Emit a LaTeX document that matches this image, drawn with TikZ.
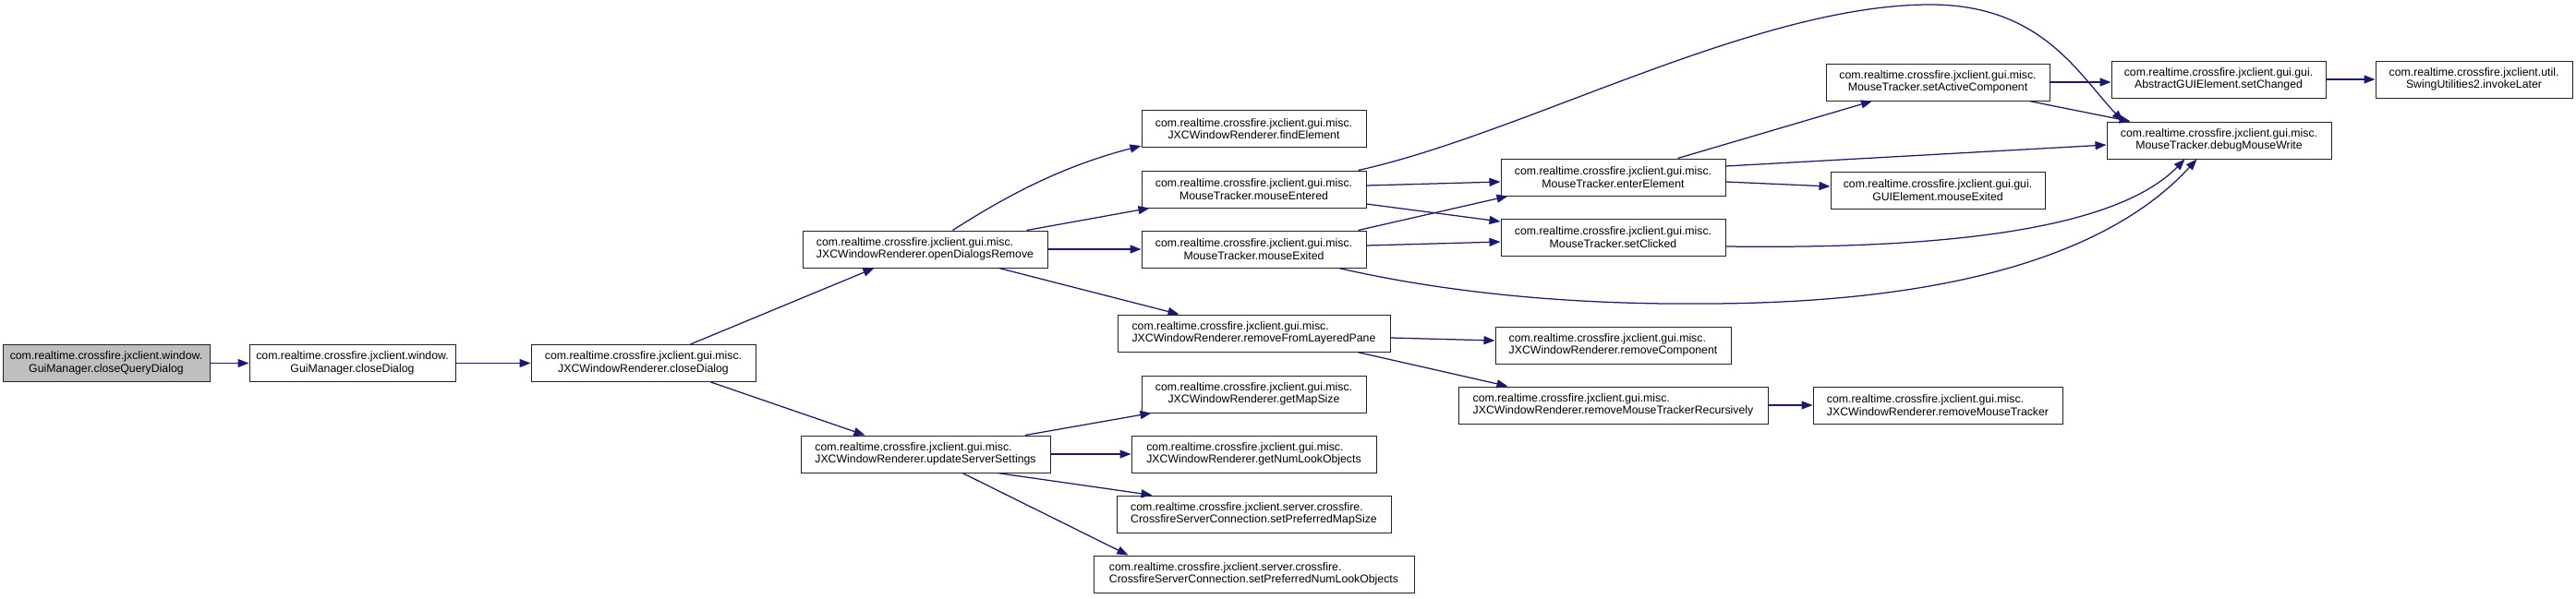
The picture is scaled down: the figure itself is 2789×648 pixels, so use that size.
\documentclass[tikz,border=0pt]{standalone}
\usepackage{fontspec}
\setmainfont{Liberation Sans}
\usetikzlibrary{arrows.meta,calc}
\definecolor{edgec}{HTML}{191970}
\definecolor{rootc}{HTML}{BFBFBF}
\definecolor{boxc}{HTML}{222222}
\begin{document}
\begin{tikzpicture}[x=1pt,y=-1pt,
  fn/.style={draw=boxc, line width=1pt, fill=white, inner sep=0pt, minimum height=40pt,
    font=\fontsize{12.3}{13.6}\selectfont, align=center},
  fnl/.style={fn, align=left},
  call/.style={draw=edgec, line width=1.25pt, -{Triangle[length=12pt,width=9pt]}, edgec}]
\useasboundingbox (0,0) rectangle (2789,648);
% column 1-3
\node[fn, fill=rootc, minimum width=224pt] (n1) at (115,393.5) {com.realtime.crossfire.jxclient.window.\\GuiManager.closeQueryDialog};
\node[fn, minimum width=223pt] (n2) at (381.5,393.5) {com.realtime.crossfire.jxclient.window.\\GuiManager.closeDialog};
\node[fn, minimum width=243pt] (n3) at (696.5,393.5) {com.realtime.crossfire.jxclient.gui.misc.\\JXCWindowRenderer.closeDialog};
% column 4
\node[fnl, minimum width=265pt] (n4) at (1001.5,270) {com.realtime.crossfire.jxclient.gui.misc.\\JXCWindowRenderer.openDialogsRemove};
\node[fnl, minimum width=270pt] (n5) at (1002,492) {com.realtime.crossfire.jxclient.gui.misc.\\JXCWindowRenderer.updateServerSettings};
% column 5
\node[fn, minimum width=243pt] (n6) at (1357.5,139.5) {com.realtime.crossfire.jxclient.gui.misc.\\JXCWindowRenderer.findElement};
\node[fn, minimum width=243pt] (n7) at (1357.5,205) {com.realtime.crossfire.jxclient.gui.misc.\\MouseTracker.mouseEntered};
\node[fn, minimum width=243pt] (n8) at (1357.5,270) {com.realtime.crossfire.jxclient.gui.misc.\\MouseTracker.mouseExited};
\node[fnl, minimum width=295pt] (n9) at (1357.5,361) {com.realtime.crossfire.jxclient.gui.misc.\\JXCWindowRenderer.removeFromLayeredPane};
\node[fn, minimum width=243pt] (n10) at (1357.5,427) {com.realtime.crossfire.jxclient.gui.misc.\\JXCWindowRenderer.getMapSize};
\node[fnl, minimum width=265pt] (n11) at (1357.5,492) {com.realtime.crossfire.jxclient.gui.misc.\\JXCWindowRenderer.getNumLookObjects};
\node[fnl, minimum width=297pt] (n12) at (1357.5,557) {com.realtime.crossfire.jxclient.server.crossfire.\\CrossfireServerConnection.setPreferredMapSize};
\node[fnl, minimum width=347pt] (n13) at (1357.5,622) {com.realtime.crossfire.jxclient.server.crossfire.\\CrossfireServerConnection.setPreferredNumLookObjects};
% column 6
\node[fn, minimum width=243pt] (n14) at (1746.5,192) {com.realtime.crossfire.jxclient.gui.misc.\\MouseTracker.enterElement};
\node[fn, minimum width=243pt] (n15) at (1746.5,257) {com.realtime.crossfire.jxclient.gui.misc.\\MouseTracker.setClicked};
\node[fnl, minimum width=255pt] (n16) at (1746.5,374) {com.realtime.crossfire.jxclient.gui.misc.\\JXCWindowRenderer.removeComponent};
\node[fnl, minimum width=335pt] (n17) at (1746.5,439) {com.realtime.crossfire.jxclient.gui.misc.\\JXCWindowRenderer.removeMouseTrackerRecursively};
% column 7
\node[fn, minimum width=242pt] (n18) at (2098,89) {com.realtime.crossfire.jxclient.gui.misc.\\MouseTracker.setActiveComponent};
\node[fn, minimum width=232pt] (n19) at (2098,206) {com.realtime.crossfire.jxclient.gui.gui.\\GUIElement.mouseExited};
\node[fnl, minimum width=270pt] (n20) at (2098,439) {com.realtime.crossfire.jxclient.gui.misc.\\JXCWindowRenderer.removeMouseTracker};
% column 8-9
\node[fn, minimum width=232pt] (n21) at (2402,86) {com.realtime.crossfire.jxclient.gui.gui.\\AbstractGUIElement.setChanged};
\node[fn, minimum width=243pt] (n22) at (2402.5,152) {com.realtime.crossfire.jxclient.gui.misc.\\MouseTracker.debugMouseWrite};
\node[fn, minimum width=213pt] (n23) at (2678.5,86) {com.realtime.crossfire.jxclient.util.\\SwingUtilities2.invokeLater};
% edges
\draw[call] (n1.east) -- (n2.west);
\draw[call] (n2.east) -- (n3.west);
\draw[call] ($(n3.north)+(51,0)$) -- ($(n4.south west)+(78,0)$);
\draw[call] ($(n3.south)+(73,0)$) -- ($(n5.north west)+(70,0)$);
\draw[call] ($(n4.north)+(30,0)$) .. controls (1090,212) and (1150,180) .. ($(n6.south west)+(0,-2)$);
\draw[call] ($(n4.north)+(110,0)$) -- ($(n7.south west)+(9,0)$);
\draw[call] (n4.east) -- (n8.west);
\draw[call] ($(n4.south)+(80,0)$) -- ($(n9.north west)+(67,0)$);
\draw[call] ($(n7.north east)+(-9,0)$) .. controls (1650,145) and (1900,5) .. (2090,5)
   .. controls (2210,5) and (2250,80) .. ($(n22.north)+(-104,0)$);
\draw[call] ($(n7.east)+(0,-4)$) -- ($(n14.west)+(0,5)$);
\draw[call] ($(n7.east)+(0,16)$) -- ($(n15.west)+(0,-17)$);
\draw[call] ($(n8.north east)+(-9,0)$) -- ($(n14.south west)+(8,0)$);
\draw[call] ($(n8.east)+(0,-4)$) -- ($(n15.west)+(0,5)$);
\draw[call] ($(n8.south)+(92,0)$) .. controls (1600,325) and (1750,330) .. (1850,329)
   .. controls (2100,328) and (2280,280) .. ($(n22.south)+(-24,0)$);
\draw[call] ($(n14.north)+(70,0)$) -- ($(n18.south)+(-71,0)$);
\draw[call] ($(n14.east)+(0,-12)$) -- ($(n22.west)+(0,5)$);
\draw[call] ($(n14.east)+(0,5)$) -- ($(n19.west)+(0,-4)$);
\draw[call] ($(n15.east)+(0,10)$) .. controls (2100,270) and (2290,250) .. ($(n22.south)+(-37,0)$);
\draw[call] (n18.east) -- (n18.east -| n21.west);
\draw[call] ($(n18.south)+(99,0)$) -- ($(n22.north)+(-96,0)$);
\draw[call] (n21.east) -- (n23.west);
\draw[call] ($(n9.east)+(0,5)$) -- ($(n16.west)+(0,-5)$);
\draw[call] ($(n9.south)+(112,0)$) -- ($(n17.north west)+(54,0)$);
\draw[call] (n17.east) -- (n20.west);
\draw[call] ($(n5.north)+(108,0)$) -- ($(n10.south west)+(11,0)$);
\draw[call] (n5.east) -- (n11.west);
\draw[call] ($(n5.south)+(78,0)$) -- ($(n12.north west)+(39,0)$);
\draw[call] ($(n5.south)+(40,0)$) -- ($(n13.north west)+(38,0)$);
\end{tikzpicture}
\end{document}
